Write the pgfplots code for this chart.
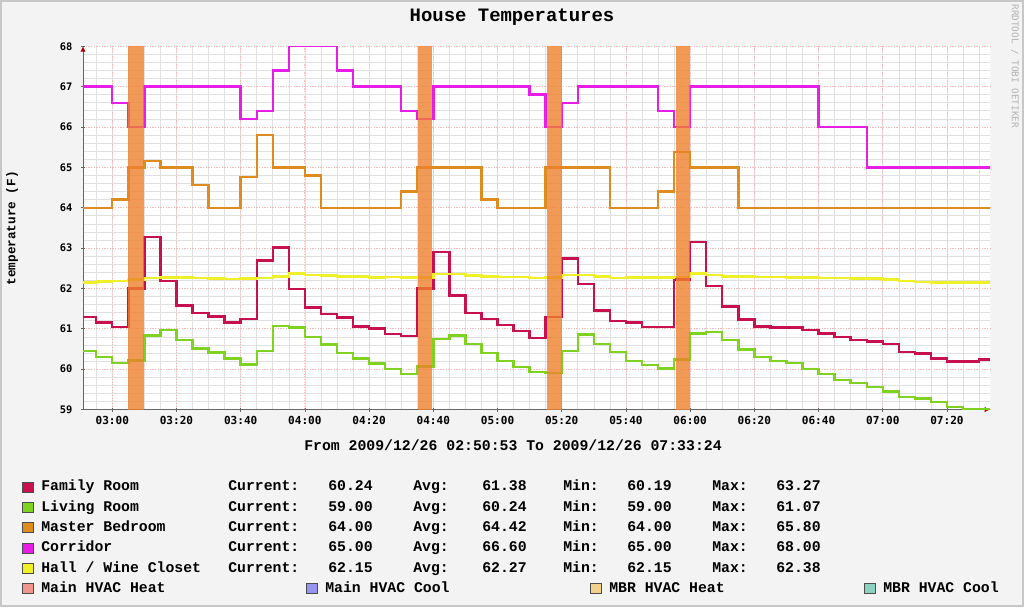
\documentclass[border=0pt]{standalone}
\usepackage{fontspec}
\usepackage{pgfplots}
\pgfplotsset{compat=1.18}
\usetikzlibrary{arrows.meta}
\newfontfamily\lmono{Liberation Mono}
\newfontfamily\dmono{DejaVu Sans Mono}
\definecolor{bgc}{RGB}{243,243,243}
\definecolor{famc}{RGB}{200,16,80}
\definecolor{livc}{RGB}{128,210,32}
\definecolor{mbrc}{RGB}{222,140,30}
\definecolor{corc}{RGB}{230,30,230}
\definecolor{halc}{RGB}{240,240,40}
\definecolor{mhh}{RGB}{240,150,140}
\definecolor{mhc}{RGB}{150,150,240}
\definecolor{bhh}{RGB}{240,210,140}
\definecolor{bhc}{RGB}{140,210,190}
\definecolor{heat}{RGB}{238,128,44}

\pgfplotstableread{
t v
170.88 61.29
175 61.16
180 61.05
185 62.0
190 63.27
195 62.18
200 61.58
205 61.39
210 61.31
215 61.16
220 61.25
225 62.69
230 63.01
235 61.98
240 61.53
245 61.36
250 61.28
255 61.06
260 61.01
265 60.87
270 60.82
275 62.0
280 62.91
285 61.83
290 61.39
295 61.25
300 61.1
305 60.95
310 60.78
315 61.29
320 62.74
325 62.11
330 61.45
335 61.2
340 61.16
345 61.05
355 62.22
360 63.15
365 62.06
370 61.55
375 61.23
380 61.06
385 61.03
395 60.97
400 60.88
405 60.8
410 60.72
415 60.69
420 60.63
425 60.43
430 60.39
435 60.26
440 60.19
450 60.24
453.4 60.24
}\family

\pgfplotstableread{
t v
170.88 60.45
175 60.3
180 60.16
185 60.22
190 60.83
195 60.97
200 60.72
205 60.51
210 60.41
215 60.26
220 60.12
225 60.45
230 61.07
235 61.03
240 60.8
245 60.61
250 60.4
255 60.26
260 60.14
265 60.0
270 59.88
275 60.07
280 60.75
285 60.83
290 60.62
295 60.4
300 60.2
305 60.05
310 59.93
315 59.91
320 60.45
325 60.86
330 60.63
335 60.43
340 60.2
345 60.1
350 60.02
355 60.24
360 60.88
365 60.92
370 60.72
375 60.49
380 60.3
385 60.2
390 60.16
395 60.01
400 59.88
405 59.73
410 59.66
415 59.56
420 59.45
425 59.31
430 59.27
435 59.19
440 59.07
445 59.0
453.4 59.0
}\living

\pgfplotstableread{
t v
170.88 64.0
180 64.2
185 65.0
190 65.15
195 65.0
205 64.57
210 64.0
220 64.76
225 65.8
230 65.0
240 64.8
245 64.0
270 64.4
275 65.0
295 64.2
300 64.0
315 65.0
335 64.0
350 64.4
355 65.38
360 65.0
375 64.0
453.4 64.0
}\master

\pgfplotstableread{
t v
170.88 67.0
180 66.6
185 66.0
190 67.0
220 66.2
225 66.4
230 67.4
235 68.0
250 67.4
255 67.0
270 66.4
275 66.2
280 67.0
310 66.8
315 66.0
320 66.6
325 67.0
350 66.4
355 66.0
360 67.0
400 66.0
415 65.0
453.4 65.0
}\corridor

\pgfplotstableread{
t v
170.88 62.15
175 62.17
180 62.18
185 62.22
190 62.26
195 62.27
200 62.27
205 62.26
210 62.25
215 62.24
220 62.25
225 62.26
230 62.30
235 62.37
240 62.33
245 62.32
250 62.30
255 62.30
260 62.27
265 62.28
270 62.27
275 62.27
280 62.36
285 62.36
290 62.32
295 62.30
300 62.29
305 62.28
310 62.26
315 62.27
320 62.33
325 62.33
330 62.30
335 62.26
340 62.27
345 62.27
350 62.27
355 62.28
360 62.37
365 62.34
370 62.30
375 62.30
380 62.28
385 62.28
390 62.27
395 62.27
400 62.26
405 62.26
410 62.25
415 62.25
420 62.22
425 62.18
430 62.16
435 62.15
440 62.15
445 62.15
453.4 62.15
}\hall

\tikzset{lfont/.style={font=\lmono\bfseries\fontsize{11.1}{13}\selectfont, inner sep=0pt, anchor=base west}}
\newcommand\legrow[7]{%
  \filldraw[fill=#2, draw=black!70, line width=0.5pt] (22,#1-5) rectangle (33,#1+5);
  \node[lfont] at (41,#1+4) {#3};
  \node[lfont] at (228,#1+4) {Current:};
  \node[lfont] at (328,#1+4) {#4};
  \node[lfont] at (413,#1+4) {Avg:};
  \node[lfont] at (482,#1+4) {#5};
  \node[lfont] at (563,#1+4) {Min:};
  \node[lfont] at (627,#1+4) {#6};
  \node[lfont] at (712,#1+4) {Max:};
  \node[lfont] at (776,#1+4) {#7};
}
\newcommand\legbox[4]{%
  \filldraw[fill=#3, draw=black!70, line width=0.5pt] (#1,#2-5) rectangle (#1+11,#2+5);
  \node[lfont] at (#1+19,#2+4) {#4};
}

\begin{document}
\begin{tikzpicture}[x=0.75pt,y=-0.75pt]
\fill[bgc] (0,0) rectangle (1024,607);
\draw[black!22, line width=1.5pt] (1,1) rectangle (1023,606);
\node[font=\lmono\bfseries\fontsize{14.2}{16}\selectfont] at (512,17) {House Temperatures};
\node[rotate=90, font=\lmono\bfseries\fontsize{9.5}{11}\selectfont] at (12,228) {temperature (F)};
\node[rotate=-90, text=black!30, font=\dmono\fontsize{7}{8}\selectfont] at (1015,66) {RRDTOOL / TOBI OETIKER};

\begin{axis}[at={(62.25pt,-306.975pt)}, anchor=south west, scale only axis,
  width=680.25pt, height=272.5pt,
  xmin=170.883, xmax=453.4, ymin=59, ymax=68,
  axis lines=left,
  x axis line style={black!60, line width=0.6pt, -{Latex[color=red!70!black,length=4pt,width=4pt]}},
  y axis line style={black!60, line width=0.6pt, -{Latex[color=red!70!black,length=4pt,width=4pt]}},
  xtick={180,200,...,440},
  xticklabels={03:00,03:20,03:40,04:00,04:20,04:40,05:00,05:20,05:40,06:00,06:20,06:40,07:00,07:20},
  minor xtick={175,180,...,450},
  ytick={59,60,...,68},
  minor y tick num=4,
  grid=both,
  minor grid style={black!12, line width=0.5pt},
  major grid style={red!28, line width=0.6pt, dash pattern=on 1pt off 1pt},
  tick style={black!60, line width=0.5pt},
  major tick length=3pt, minor tick length=0pt,
  tick align=center,
  /pgf/number format/assume math mode=true,
  xticklabel style={font=\dmono\bfseries\fontsize{8.3}{10}\selectfont},
  yticklabel style={font=\dmono\bfseries\fontsize{7.8}{10}\selectfont, xshift=-3pt},
  axis background/.style={fill=white},
]
\addplot[const plot, famc, line width=1.8pt] table[x=t,y=v] {\family};
\addplot[const plot, livc, line width=1.8pt] table[x=t,y=v] {\living};
\addplot[const plot, mbrc, line width=1.8pt] table[x=t,y=v] {\master};
\addplot[const plot, corc, line width=1.8pt] table[x=t,y=v] {\corridor};
\addplot[const plot, halc, line width=1.8pt] table[x=t,y=v] {\hall};
\addplot[fill=heat, fill opacity=0.8, draw=none] coordinates {(185,59) (185,68) (189.8,68) (189.8,59)} -- cycle;
\addplot[fill=heat, fill opacity=0.8, draw=none] coordinates {(275.1,59) (275.1,68) (279.6,68) (279.6,59)} -- cycle;
\addplot[fill=heat, fill opacity=0.8, draw=none] coordinates {(315.4,59) (315.4,68) (320,68) (320,59)} -- cycle;
\addplot[fill=heat, fill opacity=0.8, draw=none] coordinates {(355.5,59) (355.5,68) (359.8,68) (359.8,59)} -- cycle;
\end{axis}

\node[font=\lmono\bfseries\fontsize{11.1}{13}\selectfont] at (513,445) {From 2009/12/26 02:50:53 To 2009/12/26 07:33:24};

\legrow{486.7}{famc}{Family Room}{60.24}{61.38}{60.19}{63.27}
\legrow{507}{livc}{Living Room}{59.00}{60.24}{59.00}{61.07}
\legrow{527.3}{mbrc}{Master Bedroom}{64.00}{64.42}{64.00}{65.80}
\legrow{547.6}{corc}{Corridor}{65.00}{66.60}{65.00}{68.00}
\legrow{567.9}{halc}{Hall / Wine Closet}{62.15}{62.27}{62.15}{62.38}
\legbox{22}{588.2}{mhh}{Main HVAC Heat}
\legbox{306}{588.2}{mhc}{Main HVAC Cool}
\legbox{590}{588.2}{bhh}{MBR HVAC Heat}
\legbox{864}{588.2}{bhc}{MBR HVAC Cool}
\end{tikzpicture}
\end{document}
